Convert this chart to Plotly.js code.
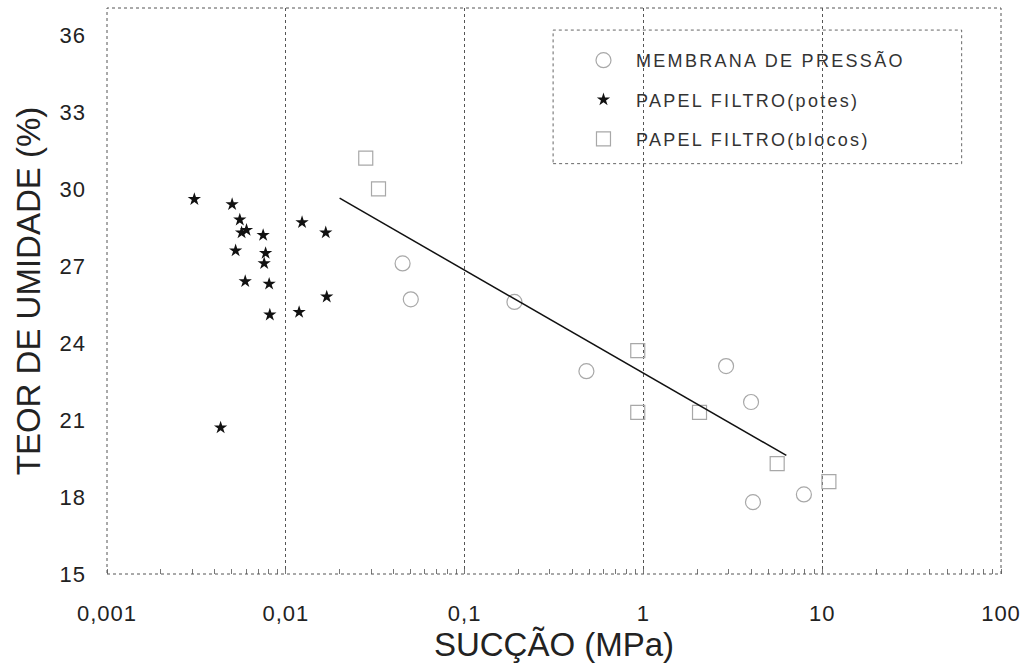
<!DOCTYPE html>
<html>
<head>
<meta charset="utf-8">
<script src="https://cdn.plot.ly/plotly-3.0.1.min.js"></script>
<style>
  html, body { margin: 0; padding: 0; background: #ffffff; }
  #chart { width: 1031px; height: 663px; }
  #chart .legendtext { letter-spacing: 2.3px; }
  #chart .legend .scrollbox, #chart .legend { clip-path: none !important; }
  #chart .xtick text, #chart .ytick text { letter-spacing: 1px; }
</style>
</head>
<body>
<div id="chart"></div>
<script>
// ---- data ----
const membranaX = [0.045, 0.050, 0.19, 0.48, 2.9, 4.0, 4.1, 7.9];
const membranaY = [27.1, 25.7, 25.6, 22.9, 23.1, 21.7, 17.8, 18.1];

const potesX = [0.00308, 0.00501, 0.00553, 0.00566, 0.00603, 0.00747, 0.00524, 0.00771,
                0.00757, 0.00593, 0.00807, 0.00814, 0.01187, 0.01233, 0.01673, 0.01694, 0.00432];
const potesY = [29.6, 29.4, 28.8, 28.3, 28.4, 28.2, 27.6, 27.5,
                27.1, 26.4, 26.3, 25.1, 25.2, 28.7, 28.3, 25.8, 20.7];

const blocosX = [0.028, 0.033, 0.93, 0.93, 2.06, 5.6, 10.9];
const blocosY = [31.2, 30.0, 23.7, 21.3, 21.3, 19.3, 18.6];

const fitX = [0.020, 6.3];
const fitY = [29.64, 19.62];

const xTickVals = [0.001, 0.01, 0.1, 1, 10, 100];
const xTickText = ['0,001', '0,01', '0,1', '1', '10', '100'];
const yTickVals = [15, 18, 21, 24, 27, 30, 33, 36];

const legendNames = ['MEMBRANA DE PRESSÃO', 'PAPEL FILTRO(potes)', 'PAPEL FILTRO(blocos)'];
const xTitle = 'SUCÇÃO (MPa)';
const yTitle = 'TEOR DE UMIDADE (%)';

// ---- traces ----
const FONT = 'Liberation Sans, Arial, Helvetica, sans-serif';
const traces = [
  {
    x: membranaX, y: membranaY, type: 'scatter', mode: 'markers',
    name: legendNames[0], legendgroup: 'g1',
    marker: { symbol: 'circle-open', size: 15, color: '#a8a8a8', line: { width: 1.2, color: '#a8a8a8' } }
  },
  {
    x: potesX, y: potesY, type: 'scatter', mode: 'markers',
    name: legendNames[1], legendgroup: 'g2',
    marker: { symbol: 'star', size: 10, color: '#111111' }
  },
  {
    x: blocosX, y: blocosY, type: 'scatter', mode: 'markers',
    name: legendNames[2], legendgroup: 'g3',
    marker: { symbol: 'square-open', size: 14, color: '#a8a8a8', line: { width: 1.2, color: '#a8a8a8' } }
  },
  {
    x: fitX, y: fitY, type: 'scatter', mode: 'lines',
    showlegend: false, hoverinfo: 'skip',
    line: { color: '#111111', width: 1.5 }
  }
];

const layout = {
  width: 1031, height: 663,
  paper_bgcolor: '#ffffff', plot_bgcolor: '#ffffff',
  margin: { l: 107, r: 30, t: 8, b: 89 },
  font: { family: FONT, color: '#222222' },
  showlegend: true,
  legend: {
    x: 0.519, y: 0.94, xanchor: 'left', yanchor: 'top',
    bgcolor: 'rgba(0,0,0,0)', borderwidth: 0,
    font: { family: FONT, size: 18, color: '#333333' },
    tracegroupgap: 13, itemwidth: 55
  },
  xaxis: {
    type: 'log', range: [-3, 2],
    tickvals: xTickVals, ticktext: xTickText,
    tickfont: { family: FONT, size: 22, color: '#222222' },
    ticks: '', ticklabelstandoff: 24,
    showgrid: true, gridcolor: '#555555', griddash: 'dot', gridwidth: 1,
    zeroline: false, showline: false,
    minor: { ticks: 'inside', ticklen: 5, tickcolor: '#777777', dtick: 'D1', showgrid: false },
    title: { text: xTitle, font: { family: FONT, size: 33, color: '#222222' }, standoff: 4 }
  },
  yaxis: {
    range: [15, 37.05], tickvals: yTickVals,
    tickfont: { family: FONT, size: 22, color: '#222222' },
    ticks: '', ticklabelstandoff: 20,
    showgrid: false, zeroline: false, showline: false,
    title: { text: yTitle, font: { family: FONT, size: 33, color: '#222222' }, standoff: 10 }
  },
  shapes: [
    // dotted plot frame
    { type: 'rect', xref: 'paper', yref: 'paper', x0: 0, x1: 1, y0: 0, y1: 1,
      line: { color: '#555555', width: 1, dash: 'dot' } },
    // dotted legend box
    { type: 'rect', xref: 'paper', yref: 'paper', x0: 0.499, x1: 0.956, y0: 0.725, y1: 0.961,
      line: { color: '#666666', width: 1, dash: 'dot' }, fillcolor: 'rgba(0,0,0,0)' }
  ]
};

Plotly.newPlot('chart', traces, layout, { staticPlot: true, displayModeBar: false });
</script>
</body>
</html>
